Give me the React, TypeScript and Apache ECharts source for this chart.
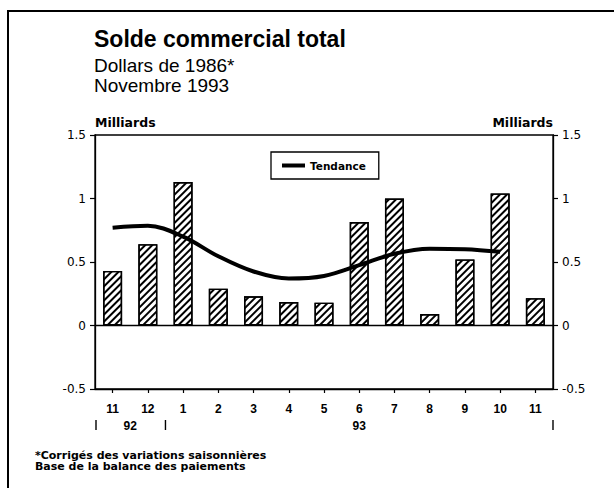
import React, { useEffect, useRef } from 'react';
import * as echarts from 'echarts';

// ---- data ----
const months = ['11', '12', '1', '2', '3', '4', '5', '6', '7', '8', '9', '10', '11'];
const soldeValues = [0.43, 0.64, 1.13, 0.29, 0.23, 0.185, 0.18, 0.815, 1.0, 0.09, 0.52, 1.04, 0.215];
const tendanceValues: (number | null)[] = [0.77, 0.785, 0.7, 0.545, 0.425, 0.37, 0.39, 0.475, 0.565, 0.605, 0.6, 0.58, null];
const yearNames = ['92', '93'];
const yearStarts = [0, 2]; // category index where each year starts
const yearEnd = 13;
const titleText = 'Solde commercial total';
const subtitleLines = ['Dollars de 1986*', 'Novembre 1993'];
const footnoteLines = ['*Corrigés des variations saisonnières', 'Base de la balance des paiements'];
const axisName = 'Milliards';
const legendName = 'Tendance';

// ---- layout ----
const W = 614;
const H = 488;
const GRID_LEFT = 95;
const GRID_RIGHT = 61;
const GRID_TOP = 135;
const GRID_BOTTOM = 99;

export default function App() {
  const ref = useRef<HTMLDivElement>(null);

  useEffect(() => {
    if (!ref.current) return;
    const chart = echarts.init(ref.current, null, { renderer: 'svg', width: W, height: H });

    const plotW = W - GRID_LEFT - GRID_RIGHT;
    const catW = plotW / months.length;
    const bounds = [...yearStarts, yearEnd];

    const graphics: any[] = [
      {
        type: 'rect',
        shape: { x: 8, y: 11, width: 700, height: 600 },
        style: { fill: 'none', stroke: '#000', lineWidth: 2 },
        silent: true,
      },
      {
        type: 'text',
        x: 35,
        y: 450,
        scaleX: 1.1,
        style: {
          text: footnoteLines.join('\n'),
          font: 'bold 10px "DejaVu Sans"',
          lineHeight: 10.5,
          fill: '#000',
        },
      },
    ];
    bounds.forEach((b) => {
      const x = GRID_LEFT + b * catW + (b === 0 ? 1 : 0);
      graphics.push({
        type: 'line',
        shape: { x1: x, y1: 420, x2: x, y2: 430 },
        style: { stroke: '#000', lineWidth: 1.4 },
        silent: true,
      });
    });
    yearNames.forEach((name, i) => {
      const mid = (bounds[i] + bounds[i + 1]) / 2;
      graphics.push({
        type: 'text',
        x: GRID_LEFT + mid * catW,
        y: 425.5,
        style: {
          text: name,
          font: 'bold 12px "Liberation Sans"',
          fill: '#000',
          align: 'center',
          verticalAlign: 'middle',
        },
      });
    });

    const yAxisCommon = {
      type: 'value',
      min: -0.5,
      max: 1.5,
      interval: 0.5,
      name: axisName,
      nameLocation: 'end',
      nameGap: 6,
      axisLine: { show: true, lineStyle: { color: '#000', width: 1.3 } },
      axisTick: { show: true, inside: false, length: 5, lineStyle: { color: '#000', width: 1.2 } },
      splitLine: { show: false },
      axisLabel: { color: '#000', fontFamily: 'DejaVu Sans', fontSize: 12, margin: 9 },
    };

    chart.setOption({
      animation: false,
      backgroundColor: '#fff',
      title: {
        text: titleText,
        subtext: subtitleLines.join('\n'),
        left: 94,
        top: 27,
        padding: 0,
        itemGap: 5,
        textStyle: { fontFamily: 'Liberation Sans', fontWeight: 'bold', fontSize: 23, color: '#000' },
        subtextStyle: { fontFamily: 'Liberation Sans', fontSize: 19, lineHeight: 20, color: '#000' },
      },
      legend: {
        data: [legendName],
        left: 271,
        top: 152,
        padding: [8, 13, 8, 11],
        borderColor: '#000',
        borderWidth: 1.3,
        icon: 'rect',
        itemWidth: 23,
        itemHeight: 4,
        itemGap: 5,
        textStyle: { fontFamily: 'DejaVu Sans', fontWeight: 'bold', fontSize: 10.5, color: '#000' },
      },
      grid: {
        left: GRID_LEFT,
        right: GRID_RIGHT,
        top: GRID_TOP,
        bottom: GRID_BOTTOM,
        show: true,
        borderColor: '#000',
        borderWidth: 1.3,
        backgroundColor: 'transparent',
        containLabel: false,
      },
      xAxis: {
        type: 'category',
        data: months,
        boundaryGap: true,
        axisLine: { show: true, onZero: false, lineStyle: { color: '#000', width: 1.3 } },
        axisTick: { show: true, alignWithLabel: true, interval: 0, length: 4, lineStyle: { color: '#000', width: 1.2 } },
        axisLabel: { interval: 0, color: '#000', fontFamily: 'Liberation Sans', fontWeight: 'bold', fontSize: 12, margin: 14 },
        splitLine: { show: false },
      },
      yAxis: [
        {
          ...yAxisCommon,
          position: 'left',
          nameTextStyle: { fontFamily: 'DejaVu Sans', fontWeight: 'bold', fontSize: 12.5, color: '#000', align: 'left' },
        },
        {
          ...yAxisCommon,
          position: 'right',
          nameTextStyle: { fontFamily: 'DejaVu Sans', fontWeight: 'bold', fontSize: 12.5, color: '#000', align: 'right' },
        },
      ],
      series: [
        {
          name: 'Solde',
          type: 'bar',
          data: soldeValues,
          barWidth: 19,
          itemStyle: {
            color: '#fff',
            borderColor: '#000',
            borderWidth: 1.4,
            decal: {
              symbol: 'rect',
              symbolSize: 1,
              color: '#000',
              backgroundColor: '#fff',
              dashArrayX: [1, 0],
              dashArrayY: [2, 2.8],
              rotation: -Math.PI / 4,
            },
          },
          markLine: {
            silent: true,
            symbol: 'none',
            label: { show: false },
            lineStyle: { color: '#000', type: 'solid', width: 1.3 },
            data: [{ yAxis: 0 }],
          },
        },
        {
          name: legendName,
          type: 'line',
          data: tendanceValues,
          smooth: 0.35,
          showSymbol: false,
          symbol: 'none',
          lineStyle: { color: '#000', width: 4 },
          itemStyle: { color: '#000' },
          z: 5,
        },
      ],
      graphic: graphics,
    });

    return () => chart.dispose();
  }, []);

  return (
    <div
      ref={ref}
      style={{ position: 'fixed', left: 0, top: 0, width: W, height: H, background: '#fff' }}
    />
  );
}
